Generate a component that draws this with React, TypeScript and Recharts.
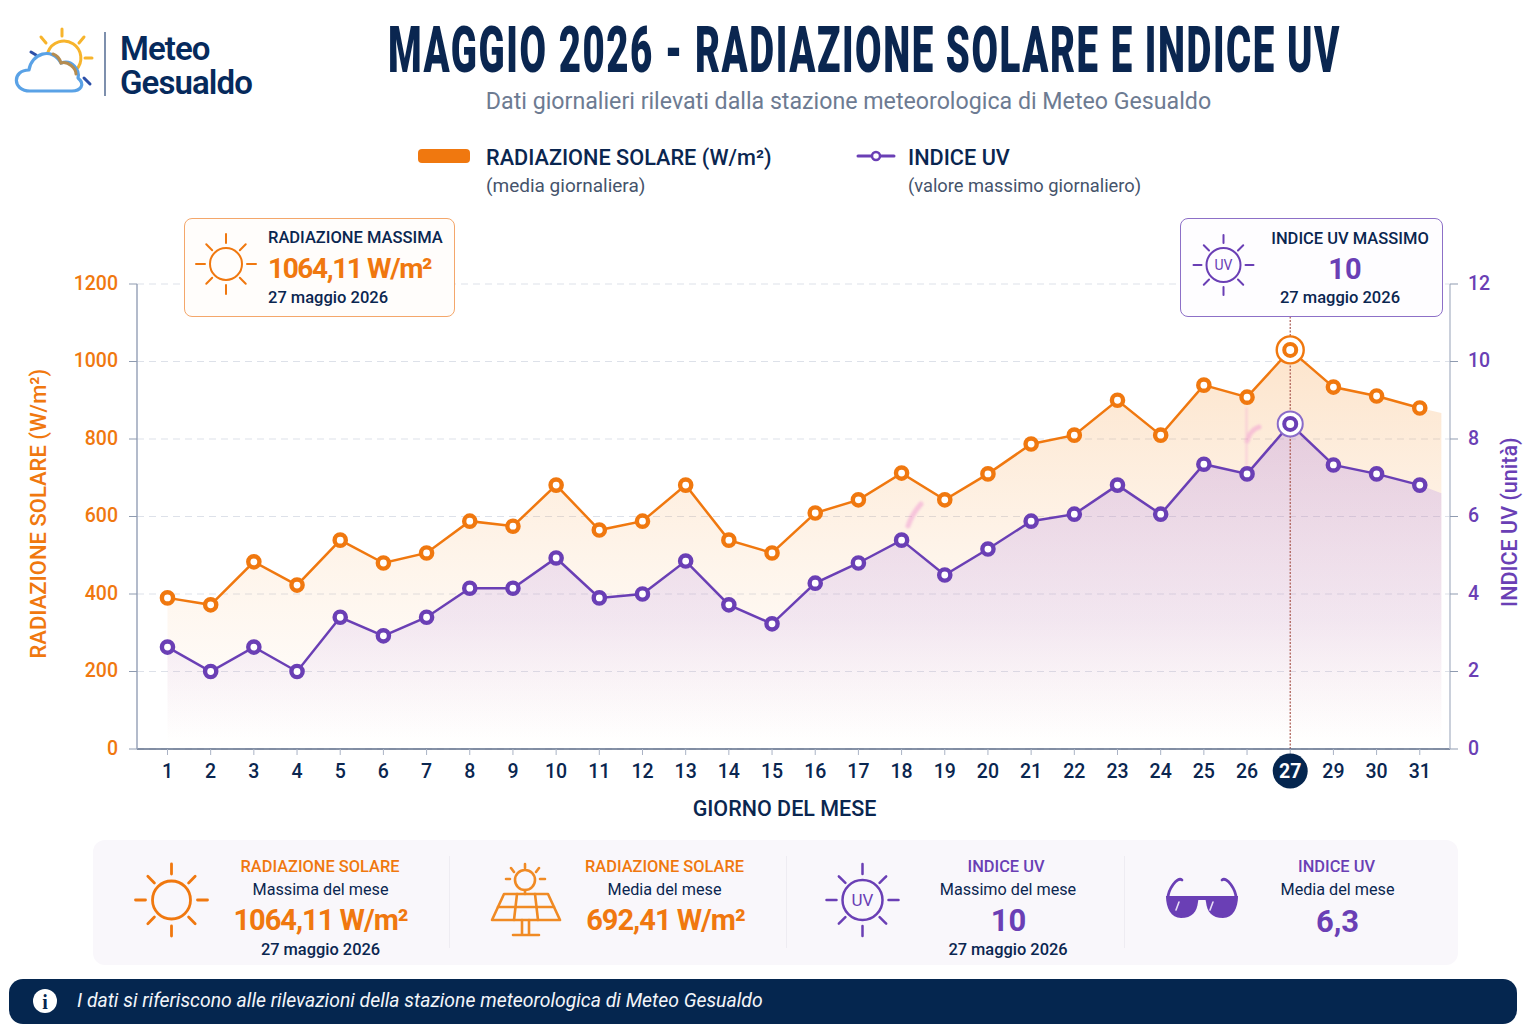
import React from 'react';
import { ComposedChart, Area, Line, XAxis, YAxis, CartesianGrid, ReferenceLine } from 'recharts';

const days = ['1','2','3','4','5','6','7','8','9','10','11','12','13','14','15','16','17','18','19','20','21','22','23','24','25','26','27','29','30','31'];
const radiation = [390,372,483,423,539,480,506,588,575,681,565,588,681,539,506,609,643,712,643,710,787,810,900,810,939,908,1030,934,911,880];
const uvIndex = [2.63,2.0,2.63,2.0,3.4,2.92,3.4,4.15,4.15,4.93,3.9,4.0,4.85,3.72,3.23,4.28,4.8,5.39,4.49,5.16,5.88,6.06,6.81,6.06,7.35,7.1,8.39,7.33,7.1,6.81];
const radiationTail = 867;
const uvTail = 6.6;
const radTicks = [0,200,400,600,800,1000,1200];
const uvTicks = [0,2,4,6,8,10,12];
const peakIndex = 26;

const rows: any[] = days.map((d, i) => ({ x: i, day: d, rad: radiation[i], uv: uvIndex[i], radArea: radiation[i], uvArea: uvIndex[i] }));
rows.push({ x: 29.5, day: '', radArea: radiationTail, uvArea: uvTail });

const NAVY = '#0a2650';
const ORANGE = '#f0780f';
const PURPLE = '#6a3fb5';
const FONT = 'Roboto, sans-serif';

function T({ x, y, c, size, w = 400, color = NAVY, align = 'left', italic, ls, lh = 1.1 }: any) {
  const tx = align === 'center' ? '-50%' : '0';
  return (
    <div style={{ position: 'absolute', left: x, top: y, transform: `translate(${tx},-50%)`, fontFamily: FONT, fontSize: size, fontWeight: w, color, whiteSpace: 'nowrap', lineHeight: lh, fontStyle: italic ? 'italic' : 'normal', letterSpacing: ls, zIndex: 3 }}>{c}</div>
  );
}

function Sun({ cx, cy, r, ry, r1, r2, color, sw = 2.5, uv, uvSize }: any) {
  const rays = [];
  for (let i = 0; i < 8; i++) {
    const a = (i * Math.PI) / 4;
    const k = i % 2 === 1 ? 0.93 : 1;
    rays.push(<line key={i} x1={cx + Math.cos(a) * r1 * k} y1={cy + Math.sin(a) * r1 * k} x2={cx + Math.cos(a) * r2 * k} y2={cy + Math.sin(a) * r2 * k} stroke={color} strokeWidth={sw} strokeLinecap="round" />);
  }
  return (
    <g>
      <ellipse cx={cx} cy={cy} rx={r} ry={ry || r} fill="none" stroke={color} strokeWidth={sw} />
      {rays}
      {uv && <text x={cx} y={cy + uvSize * 0.36} textAnchor="middle" fontFamily={FONT} fontSize={uvSize} fill={color}>UV</text>}
    </g>
  );
}

function makeDot(color: string, ring: string, ringR: number, ringW: number) {
  return (p: any) => {
    const { cx, cy, index } = p;
    if (cx == null || cy == null) return <g key={index} />;
    if (index === peakIndex) {
      return (
        <g key={index}>
          <circle cx={cx} cy={cy} r={ringR} fill="#fff" stroke={ring} strokeWidth={ringW} />
          <circle cx={cx} cy={cy} r={6} fill="#fff" stroke={color} strokeWidth={4} />
        </g>
      );
    }
    return <circle key={index} cx={cx} cy={cy} r={5.6} fill="#fff" stroke={color} strokeWidth={4.4} />;
  };
}

function DayTick(p: any) {
  const { x, payload } = p;
  const i = payload.value;
  const peak = i === peakIndex;
  return (
    <g>
      {peak && <circle cx={x} cy={771} r={17.5} fill="#05264f" />}
      <text x={x} y={778} textAnchor="middle" fontFamily={FONT} fontSize={19.5} fontWeight={peak ? 700 : 500} fill={peak ? '#fff' : NAVY}>{days[i]}</text>
    </g>
  );
}

export default function App() {
  return (
    <div style={{ position: 'absolute', left: 0, top: 0, width: 1536, height: 1024, background: '#fff', overflow: 'hidden' }}>
      {/* chart */}
      <div style={{ position: 'absolute', left: 0, top: 0, zIndex: 1 }}>
        <ComposedChart width={1536} height={1024} data={rows} margin={{ top: 284, left: 67, right: 20, bottom: 235 }}>
          <defs>
            <linearGradient id="gOrange" x1="0" y1="0" x2="0" y2="1">
              <stop offset="0%" stopColor="#f58a1f" stopOpacity={0.38} />
              <stop offset="55%" stopColor="#f7a14a" stopOpacity={0.18} />
              <stop offset="100%" stopColor="#f7a14a" stopOpacity={0} />
            </linearGradient>
            <linearGradient id="gPurple" x1="0" y1="0" x2="0" y2="1">
              <stop offset="0%" stopColor="#a274ea" stopOpacity={0.44} />
              <stop offset="60%" stopColor="#b48cec" stopOpacity={0.27} />
              <stop offset="97%" stopColor="#c9a6ee" stopOpacity={0} />
            </linearGradient>
          </defs>
          <CartesianGrid yAxisId="rad" vertical={false} stroke="#dde1e9" strokeDasharray="7 5" />
          <XAxis dataKey="x" type="number" domain={[-0.706, 29.7]} ticks={days.map((_, i) => i)} interval={0} height={40} tick={DayTick} tickSize={6} tickLine={{ stroke: '#aab3c5' }} axisLine={{ stroke: '#5d6d88', strokeWidth: 1.5 }}
            label={{ value: 'GIORNO DEL MESE', position: 'insideBottom', offset: -27, dx: -9, style: { fontFamily: FONT, fontSize: 21.5, fontWeight: 500, fill: NAVY } }} />
          <YAxis yAxisId="rad" width={70} domain={[0, 1200]} ticks={radTicks} interval={0} tickSize={8} tickMargin={11} tick={{ fontFamily: FONT, fontSize: 19.5, fontWeight: 500, fill: ORANGE, dy: -1 }} tickLine={{ stroke: '#8f9bb0' }} axisLine={{ stroke: '#9aa5ba', strokeWidth: 1.5 }}
            label={{ value: 'RADIAZIONE SOLARE (W/m²)', angle: -90, position: 'insideLeft', dx: -34, dy: 142, style: { fontFamily: FONT, fontSize: 22, fontWeight: 500, fill: ORANGE } }} />
          <YAxis yAxisId="uv" orientation="right" width={66} domain={[0, 12]} ticks={uvTicks} interval={0} tickSize={8} tickMargin={10} tick={{ fontFamily: FONT, fontSize: 19.5, fontWeight: 500, fill: PURPLE, dy: -1 }} tickLine={{ stroke: '#8f9bb0' }} axisLine={{ stroke: '#b9c0cf', strokeWidth: 1.5 }}
            label={{ value: 'INDICE UV (unità)', angle: -90, position: 'insideRight', dx: -2, dy: -79, style: { fontFamily: FONT, fontSize: 21.5, fontWeight: 500, fill: PURPLE } }} />
          <Area yAxisId="rad" dataKey="radArea" type="linear" stroke="none" fill="url(#gOrange)" isAnimationActive={false} dot={false} activeDot={false} />
          <Area yAxisId="uv" dataKey="uvArea" type="linear" stroke="none" fill="url(#gPurple)" isAnimationActive={false} dot={false} activeDot={false} />
          <ReferenceLine yAxisId="rad" segment={[{ x: peakIndex, y: 0 }, { x: peakIndex, y: 1115 }]} stroke="#a8584f" strokeWidth={1.2} strokeDasharray="2 1.5" />
          <Line yAxisId="rad" dataKey="rad" type="linear" stroke={ORANGE} strokeWidth={2.5} dot={makeDot(ORANGE, ORANGE, 13.5, 2.4)} activeDot={false} isAnimationActive={false} />
          <Line yAxisId="uv" dataKey="uv" type="linear" stroke={PURPLE} strokeWidth={2.5} dot={makeDot(PURPLE, '#8a6bc9', 12.5, 2)} activeDot={false} isAnimationActive={false} />
        </ComposedChart>
      </div>

      {/* panels */}
      <div style={{ position: 'absolute', left: 183.5, top: 217.5, width: 271.5, height: 99, boxSizing: 'border-box', border: '1.3px solid #f4a76b', borderRadius: 8, background: '#fffdfb', zIndex: 2 }} />
      <div style={{ position: 'absolute', left: 1180, top: 218, width: 263, height: 99, boxSizing: 'border-box', border: '1.3px solid #8d70c7', borderRadius: 8, background: '#fefdff', zIndex: 2 }} />
      <div style={{ position: 'absolute', left: 93, top: 840, width: 1365, height: 125, borderRadius: 12, background: '#f9f7fb', zIndex: 2 }} />
      {[449, 786, 1124].map(x => <div key={x} style={{ position: 'absolute', left: x, top: 856, width: 1, height: 92, background: '#eeecf2', zIndex: 2 }} />)}
      <div style={{ position: 'absolute', left: 9, top: 979, width: 1508, height: 45, borderRadius: 14, background: '#05264f', zIndex: 2 }} />

      {/* drawn overlay */}
      <svg width={1536} height={1024} style={{ position: 'absolute', left: 0, top: 0, zIndex: 3, pointerEvents: 'none' }}>
        {/* title */}
        <text transform="translate(388,72) scale(0.6,1)" fontFamily={FONT} fontWeight={900} fontSize={64} letterSpacing={2.6} fill={NAVY}>MAGGIO 2026 - RADIAZIONE SOLARE E INDICE UV</text>

        {/* logo */}
        <g fill="none" strokeLinecap="round">
          <path d="M48 52 A17 17 0 1 1 76 70" stroke="#f7b42c" strokeWidth={3} />
          <g stroke="#f7b42c" strokeWidth={3}>
            <line x1={62} y1={29} x2={62} y2={36} />
            <line x1={41} y1={37} x2={46} y2={43} />
            <line x1={79} y1={43} x2={84} y2={37} />
            <line x1={85} y1={58} x2={92} y2={58} />
          </g>
          <path d="M31 52 L36 55 M84 78 L90 84" stroke="#2b4fa8" strokeWidth={3} />
          <path d="M30 91 C12 91 12 70 29 70 C31 54 52 46 61 63 C72 59 80 70 78 78 C86 85 80 91 72 91 Z" stroke="#5aa2e6" strokeWidth={3.2} strokeLinejoin="round" />
          <path d="M53 54 C59 56 60 60 61 63 C68 61 76 68 76 74" stroke="#b58c50" strokeWidth={3} />
        </g>
        <line x1={105} y1={32} x2={105} y2={96} stroke="#47608a" strokeWidth={1.4} />

        {/* legend marks */}
        <rect x={418} y={149} width={52} height={14} rx={4} fill={ORANGE} />
        <line x1={858} y1={156} x2={894} y2={156} stroke={PURPLE} strokeWidth={3} strokeLinecap="round" />
        <circle cx={876} cy={156} r={4} fill="#fff" stroke={PURPLE} strokeWidth={2.5} />

        {/* callout icons */}
        <Sun cx={226} cy={264} r={16} r1={21} r2={30} color={ORANGE} sw={2} />
        <Sun cx={1223.5} cy={265} r={17} r1={22} r2={30} color={PURPLE} sw={2} uv uvSize={14} />

        {/* footer icons */}
        <Sun cx={171.5} cy={900} r={19} r1={26} r2={36} color={ORANGE} sw={2.8} />
        <Sun cx={862.5} cy={900} r={20} r1={26} r2={36} color={PURPLE} sw={2.5} uv uvSize={17} />
        <g fill="none" stroke="#f08a24" strokeWidth={2.6} strokeLinejoin="round" strokeLinecap="round">
          <circle cx={525} cy={880} r={10} />
          <path d="M525 864 V868 M511 868 L514 872 M539 868 L536 872 M506 879 H510 M540 879 H545" />
          <path d="M504 894 H548 L560 920 H492 Z" />
          <path d="M498 907 H554 M517 894 L514 920 M535 894 L538 920 M525 890 V894" />
          <path d="M522 920 V934 M529 920 V934 M513 935 H539" />
        </g>
        <g>
          <path d="M1168 898 C1168 890 1177 876 1182 880 M1236 898 C1236 890 1227 876 1222 880" fill="none" stroke={PURPLE} strokeWidth={2.8} strokeLinecap="round" />
          <path d="M1166 896 H1196 C1198 896 1199 898 1198 902 C1197 912 1192 918 1181 918 C1171 918 1166 908 1166 896 Z" fill={PURPLE} />
          <path d="M1238 896 H1208 C1206 896 1205 898 1206 902 C1207 912 1212 918 1223 918 C1233 918 1238 908 1238 896 Z" fill={PURPLE} />
          <rect x={1196} y={896} width={12} height={4} fill={PURPLE} />
          <path d="M1179 902 L1176 910 M1213 902 L1210 910" stroke="#e6dcf5" strokeWidth={1.6} strokeLinecap="round" />
        </g>

        {/* info icon */}
        <circle cx={45} cy={1001} r={12} fill="#fff" />
        <text x={45} y={1008.5} textAnchor="middle" fontFamily="Liberation Serif, serif" fontWeight={700} fontSize={20} fill="#05264f">i</text>

        {/* faint smudges */}
        <g fill="none" strokeLinecap="round" opacity={0.45} style={{ filter: 'blur(1px)' }}>
          <path d="M908 526 Q912 514 921 504" stroke="#ee8fd0" strokeWidth={5} />
          <path d="M1247 441 Q1250 430 1259 427" stroke="#ee8fd0" strokeWidth={5} />
          <path d="M1246.5 408 V466" stroke="#ee8fd0" strokeWidth={1.4} />
        </g>
      </svg>

      {/* header text */}
      <T x={120} y={49} c="Meteo" size={33} w={600} ls={-0.9} color="#062a5c" lh={0.95} />
      <T x={120} y={83} c="Gesualdo" size={33} w={600} ls={-0.9} color="#062a5c" lh={0.95} />
      <T x={848.5} y={102} c="Dati giornalieri rilevati dalla stazione meteorologica di Meteo Gesualdo" size={23.2} color="#6d7b92" align="center" />

      {/* legend text */}
      <T x={486} y={158} c="RADIAZIONE SOLARE (W/m²)" size={21.7} w={500} />
      <T x={486} y={185.5} c="(media giornaliera)" size={19} color="#45536b" />
      <T x={908} y={158} c="INDICE UV" size={21.7} w={500} />
      <T x={908} y={185.5} c="(valore massimo giornaliero)" size={18.3} color="#45536b" />

      {/* callouts */}
      <T x={268} y={238} c="RADIAZIONE MASSIMA" size={16.5} w={500} />
      <T x={268} y={268.5} c="1064,11 W/m²" size={28} w={700} color={ORANGE} ls={-1.4} />
      <T x={268} y={297.5} c="27 maggio 2026" size={16.5} w={500} />
      <T x={1350} y={239} c="INDICE UV MASSIMO" size={16.5} w={500} align="center" />
      <T x={1345} y={269.5} c="10" size={29} w={700} color={PURPLE} align="center" />
      <T x={1340} y={298} c="27 maggio 2026" size={16.5} w={500} align="center" />

      {/* stats */}
      <T x={320} y={866.5} c="RADIAZIONE SOLARE" size={16.4} w={500} color={ORANGE} align="center" />
      <T x={320.5} y={890} c="Massima del mese" size={16.2} align="center" />
      <T x={320.5} y={921} c="1064,11 W/m²" size={29} w={700} color={ORANGE} align="center" ls={-1} />
      <T x={320.5} y={949.5} c="27 maggio 2026" size={16.4} w={500} align="center" />
      <T x={664.5} y={866.5} c="RADIAZIONE SOLARE" size={16.4} w={500} color={ORANGE} align="center" />
      <T x={664.5} y={890} c="Media del mese" size={16.2} align="center" />
      <T x={665.5} y={921} c="692,41 W/m²" size={29} w={700} color={ORANGE} align="center" ls={-1} />
      <T x={1006} y={866.5} c="INDICE UV" size={16.4} w={500} color={PURPLE} align="center" />
      <T x={1008} y={890} c="Massimo del mese" size={16.2} align="center" />
      <T x={1008.5} y={921} c="10" size={31} w={700} color={PURPLE} align="center" />
      <T x={1008} y={949.5} c="27 maggio 2026" size={16.4} w={500} align="center" />
      <T x={1336.5} y={866.5} c="INDICE UV" size={16.4} w={500} color={PURPLE} align="center" />
      <T x={1337.5} y={890} c="Media del mese" size={16.2} align="center" />
      <T x={1337.5} y={922} c="6,3" size={31} w={700} color={PURPLE} align="center" />

      <T x={77} y={1001} c="I dati si riferiscono alle rilevazioni della stazione meteorologica di Meteo Gesualdo" size={19.4} italic color="#f2f5fa" />
    </div>
  );
}
